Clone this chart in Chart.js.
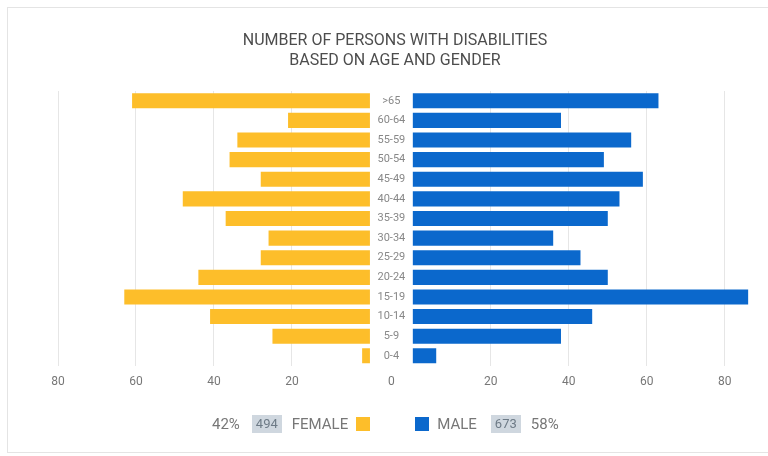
<!DOCTYPE html>
<html>
<head>
<meta charset="utf-8">
<script src="https://cdn.jsdelivr.net/npm/chart.js@4"></script>
<style>
  body { margin: 0; background: #fff; font-family: Roboto, "Liberation Sans", sans-serif; }
  #wrap { position: relative; width: 768px; height: 456px; }
  #frame { position: absolute; left: 7px; top: 7px; width: 780px; height: 444px; border: 1px solid #e4e4e4; }
  #title { position: absolute; left: 195px; width: 400px; top: 30px; text-align: center;
           font-size: 16px; line-height: 20px; color: #4d4d4d; }
  #legend { position: absolute; left: 212px; top: 415px; display: flex; align-items: center;
            font-size: 15px; color: #777; white-space: nowrap; line-height: 18px; }
  #legend .num { background: #cfd7df; color: #6d7a86; padding: 0 4px; font-size: 13px; line-height: 18px; }
  #legend .sw { width: 14px; height: 14px; display: inline-block; }
</style>
</head>
<body>
<div id="wrap">
  <div id="frame"></div>
  <canvas id="pyramid" width="768" height="456"></canvas>
  <div id="title">NUMBER OF PERSONS WITH DISABILITIES<br>BASED ON AGE AND GENDER</div>
  <div id="legend"></div>
</div>
<script>
var ages = [">65", "60-64", "55-59", "50-54", "45-49", "40-44", "35-39",
            "30-34", "25-29", "20-24", "15-19", "10-14", "5-9", "0-4"];
var female = [61, 21, 34, 36, 28, 48, 37, 26, 28, 44, 63, 41, 25, 2];
var male   = [63, 38, 56, 49, 59, 53, 50, 36, 43, 50, 86, 46, 38, 6];
var tickSteps = [20, 40, 60, 80];

var yellow = "#FDBE2A";
var blue = "#0B68CC";
var gap = 5.5; // half-width of the age label column, in axis units

function sum(a) { return a.reduce(function(s, v) { return s + v; }, 0); }

// age labels drawn in the middle column, on the y scale positions
var midLabels = {
  id: "midLabels",
  afterDatasetsDraw: function(chart) {
    var ctx = chart.ctx, xs = chart.scales.x, ys = chart.scales.y;
    var cx = xs.getPixelForValue(0);
    ctx.save();
    ctx.font = "11px Roboto";
    ctx.fillStyle = "#888";
    ctx.textAlign = "center";
    ctx.textBaseline = "middle";
    ages.forEach(function(a, i) {
      ctx.fillText(a, cx, ys.getPixelForValue(i));
    });
    ctx.restore();
  }
};

var ctx = document.getElementById("pyramid").getContext("2d");
var chart = new Chart(ctx, {
  type: "bar",
  data: {
    labels: ages,
    datasets: [
      {
        label: "FEMALE",
        data: female.map(function(v) { return [-gap, -gap - v]; }),
        backgroundColor: yellow,
        grouped: false,
        barPercentage: 0.77,
        categoryPercentage: 1
      },
      {
        label: "MALE",
        data: male.map(function(v) { return [gap, gap + v]; }),
        backgroundColor: blue,
        grouped: false,
        barPercentage: 0.77,
        categoryPercentage: 1
      }
    ]
  },
  options: {
    indexAxis: "y",
    responsive: false,
    animation: false,
    layout: { padding: { left: 58, right: 14, top: 91, bottom: 58 } },
    plugins: {
      legend: { display: false },
      tooltip: { enabled: false }
    },
    scales: {
      x: {
        type: "linear",
        min: -gap - 80,
        max: 93,
        afterBuildTicks: function(axis) {
          var t = [{ value: 0 }];
          tickSteps.forEach(function(s) {
            t.push({ value: gap + s });
            t.unshift({ value: -gap - s });
          });
          axis.ticks = t;
        },
        ticks: {
          color: "#777",
          font: { family: "Roboto", size: 12 },
          padding: 9,
          maxRotation: 0,
          autoSkip: false,
          callback: function(v) {
            return v === 0 ? "0" : String(Math.round(Math.abs(v) - gap));
          }
        },
        grid: {
          drawTicks: false,
          color: function(c) { return c.tick && c.tick.value === 0 ? "rgba(0,0,0,0)" : "#e6e6e6"; }
        },
        border: { display: false }
      },
      y: {
        display: false,
        grid: { display: false }
      }
    }
  },
  plugins: [midLabels]
});

// legend: percentages and totals come from the series
var fTot = sum(female), mTot = sum(male);
var fPct = Math.round(fTot / (fTot + mTot) * 100), mPct = 100 - fPct;
document.getElementById("legend").innerHTML =
  '<span>' + fPct + '%</span>' +
  '<span class="num" style="margin-left:12px">' + fTot + '</span>' +
  '<span style="margin-left:10px">FEMALE</span>' +
  '<span class="sw" style="background:' + yellow + ';margin-left:8px"></span>' +
  '<span class="sw" style="background:' + blue + ';margin-left:45px"></span>' +
  '<span style="margin-left:8px">MALE</span>' +
  '<span class="num" style="margin-left:14px">' + mTot + '</span>' +
  '<span style="margin-left:10px">' + mPct + '%</span>';
</script>
</body>
</html>
